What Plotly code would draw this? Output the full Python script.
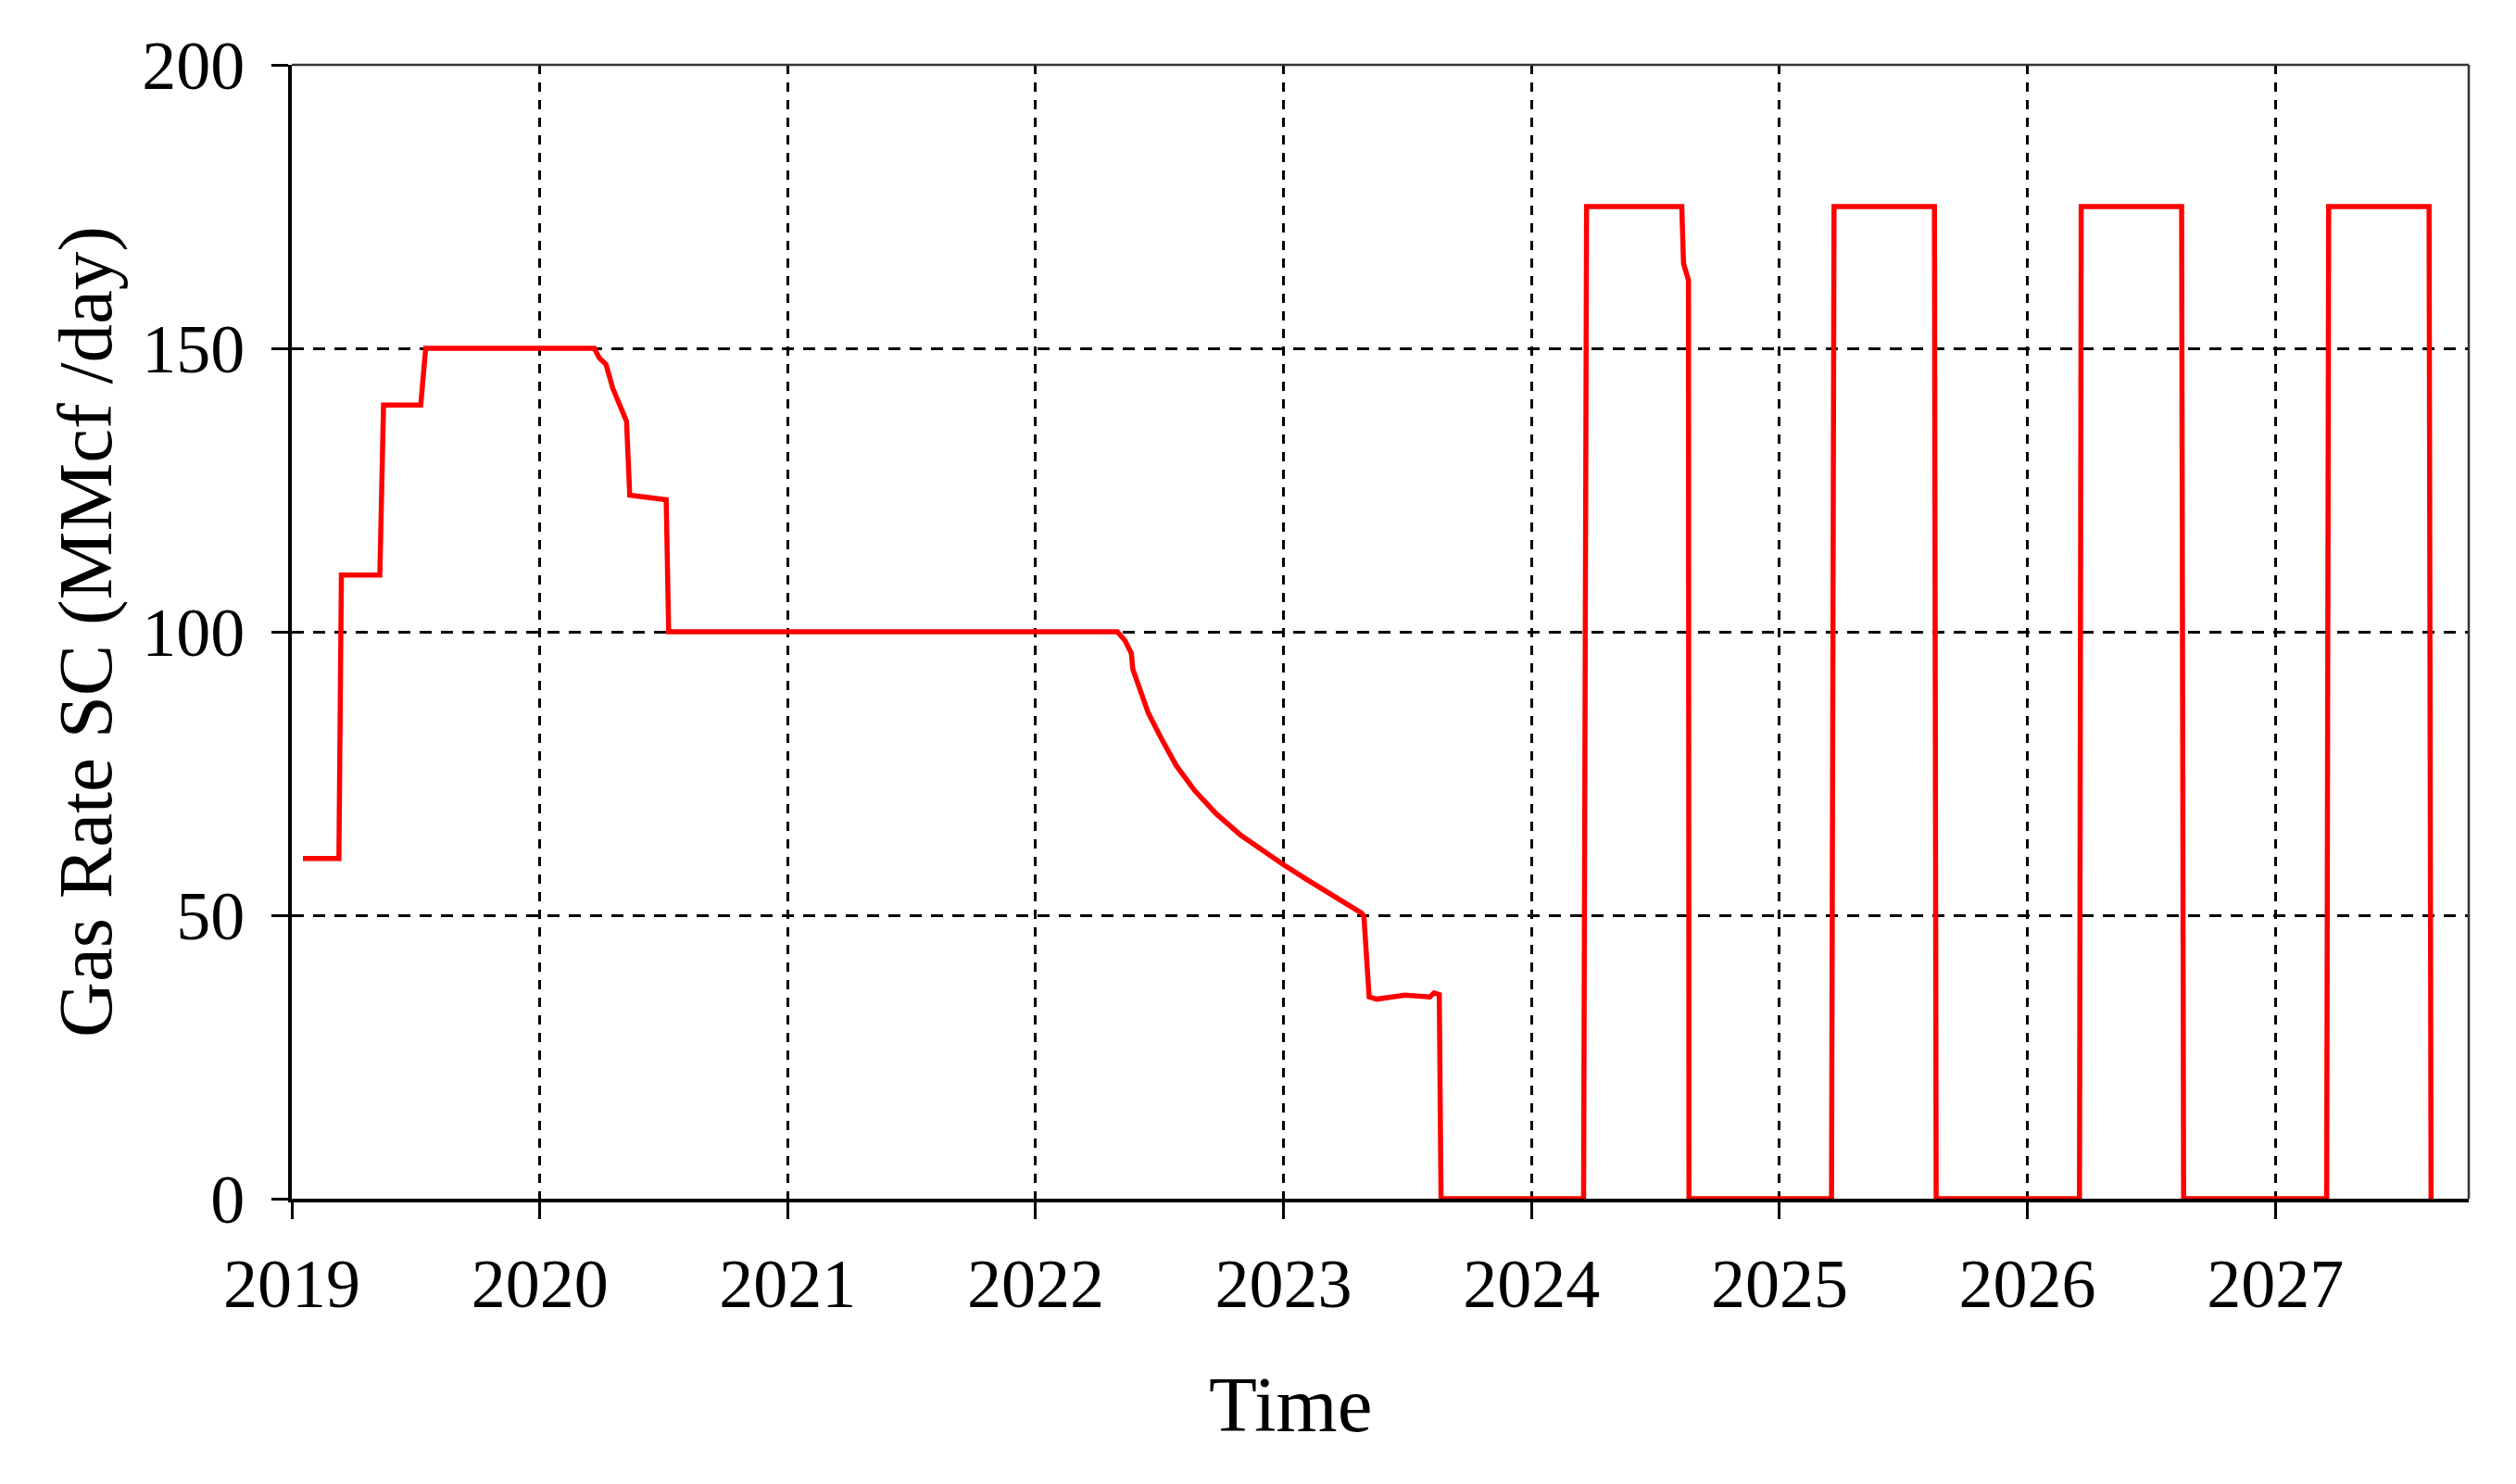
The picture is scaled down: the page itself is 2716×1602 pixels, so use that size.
import plotly.graph_objects as go

# Decimal years and gas rate (MMcf/day)
years = [2019.045, 2019.19, 2019.20, 2019.355, 2019.37, 2019.52, 2019.54,
         2020.22, 2020.24, 2020.267, 2020.295, 2020.35, 2020.363, 2020.51, 2020.52,
         2022.33, 2022.361, 2022.386, 2022.392, 2022.417, 2022.454, 2022.504, 2022.567,
         2022.641, 2022.728, 2022.828, 2022.928, 2023.0, 2023.09, 2023.189,
         2023.314, 2023.324,
         2023.345, 2023.376, 2023.49, 2023.59, 2023.607, 2023.628, 2023.635,
         2024.21, 2024.222, 2024.606, 2024.613, 2024.633, 2024.635,
         2025.21, 2025.22, 2025.625, 2025.632,
         2026.21, 2026.217, 2026.622, 2026.63,
         2027.207, 2027.215, 2027.62, 2027.628]
gas_rate = [60, 60, 110, 110, 140, 140, 150,
            150, 148.3, 147.2, 142.9, 137.1, 124.1, 123.3, 100,
            100, 98.4, 96.2, 93.4, 90.1, 85.7, 81.4, 76.4,
            72.0, 67.9, 64.1, 61.0, 58.9, 56.4, 53.7,
            50.4, 49.8,
            35.6, 35.2, 35.9, 35.6, 36.3, 36, 0,
            0, 175, 175, 165, 162, 0,
            0, 175, 175, 0,
            0, 175, 175, 0,
            0, 175, 175, 0]

x_ticks = [2019, 2020, 2021, 2022, 2023, 2024, 2025, 2026, 2027]
x_tick_labels = ["2019", "2020", "2021", "2022", "2023", "2024", "2025", "2026", "2027"]
y_ticks = [0, 50, 100, 150, 200]

FONT = "Liberation Serif, Times New Roman, serif"

fig = go.Figure()
fig.add_trace(go.Scatter(x=years, y=gas_rate, mode="lines",
                         line=dict(color="#ff0000", width=5.5), showlegend=False))

fig.update_layout(
    width=2700, height=1586,
    margin=dict(l=307, r=43, t=62, b=300),
    paper_bgcolor="white", plot_bgcolor="white",
    font=dict(family=FONT, color="black", size=74),
    xaxis=dict(range=[2019, 2027.78], tickvals=x_ticks, ticktext=x_tick_labels,
               showgrid=True, gridcolor="black", gridwidth=3, griddash="10px,9px",
               showline=True, linecolor="black", linewidth=4,
               ticks="outside", ticklen=18, tickwidth=3, tickcolor="black",
               ticklabelstandoff=6, zeroline=False,
               tickfont=dict(family=FONT, size=74), layer="below traces"),
    yaxis=dict(range=[0, 200], tickvals=y_ticks,
               showgrid=True, gridcolor="black", gridwidth=2.5, griddash="13px,10px",
               showline=True, linecolor="black", linewidth=4,
               ticks="outside", ticklen=18, tickwidth=3, tickcolor="black",
               ticklabelstandoff=14, zeroline=False,
               tickfont=dict(family=FONT, size=74), layer="below traces"),
    shapes=[
        dict(type="line", xref="paper", yref="paper", x0=0, x1=1, y0=1, y1=1,
             line=dict(color="#333333", width=2.5)),
        dict(type="line", xref="paper", yref="paper", x0=1, x1=1, y0=0, y1=1,
             line=dict(color="#333333", width=2.5)),
    ],
    annotations=[
        dict(text="Time", xref="paper", yref="paper", x=0.4587, y=-0.181,
             xanchor="center", yanchor="middle", showarrow=False,
             font=dict(family=FONT, size=85)),
        dict(text="Gas Rate SC (MMcf /day)", xref="paper", yref="paper",
             x=-0.0949, y=0.5, textangle=-90, xanchor="center", yanchor="middle",
             showarrow=False, font=dict(family=FONT, size=83)),
    ],
)

fig.write_html("out.html")
